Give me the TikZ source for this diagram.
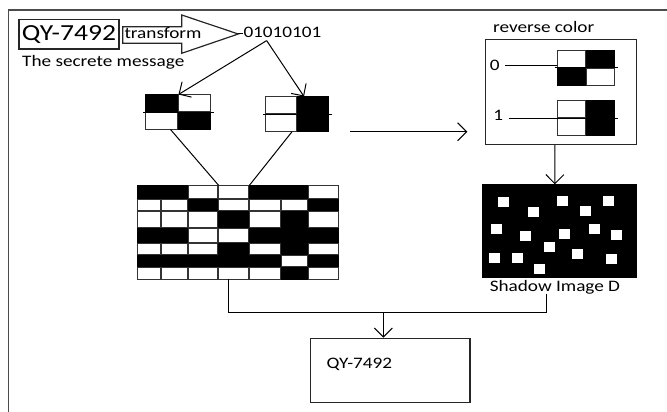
\documentclass[tikz,border=0pt]{standalone}
\usepackage{fontspec}
\setmainfont{Carlito}[FakeStretch=1.2]
\usetikzlibrary{matrix,
	calc,
	positioning,
	arrows.meta}
\tikzstyle{bk}=[draw=black, fill=black, inner sep=0]
\tikzstyle{wt}=[draw=black!80, fill=white, inner sep=0]
\tikzstyle{blkcells}=[ampersand replacement=\&, inner sep=0pt, outer sep=0pt,
		nodes={outer sep=0pt, line width=1pt}]
\tikzstyle{quad}=[blkcells, nodes={minimum width=#1, minimum height=17pt}]
\tikzstyle{gridcells}=[blkcells,
		column 1/.style={nodes={minimum width=23.3pt}},
		column 2/.style={nodes={minimum width=26pt}},
		column 3/.style={nodes={minimum width=29pt}},
		column 4/.style={nodes={minimum width=30pt}},
		column 5/.style={nodes={minimum width=30.7pt}},
		column 6/.style={nodes={minimum width=26.3pt}},
		column 7/.style={nodes={minimum width=30.3pt}},
		row 1/.style={nodes={minimum height=13.7pt}},
		row 2/.style={nodes={minimum height=11pt}},
		row 3/.style={nodes={minimum height=15.7pt}},
		row 4/.style={nodes={minimum height=14pt}},
		row 5/.style={nodes={minimum height=11pt}},
		row 6/.style={nodes={minimum height=10.7pt}},
		row 7/.style={nodes={minimum height=12pt}}]
\tikzstyle{lbl}=[inner sep=0pt, font=\fontsize{16pt}{19pt}\selectfont]
\tikzstyle{box}=[draw=black!85, line width=1.2pt, inner sep=0pt]
\tikzstyle{arr}=[-{Straight Barb[length=9pt, width=18pt]}, line width=1pt]
\tikzstyle{framing}=[draw=black!70, line width=1.5pt]

\begin{document}
\begin{tikzpicture}[x=1pt, y=-1pt, line width=1pt]
	\useasboundingbox (0,0) rectangle (667,412);
	\draw[framing] (8.3,412) -- (8.3,10) -- (667,10);

	\node[box, anchor=north west, minimum width=100pt, minimum height=29.5pt,
		font=\fontsize{23pt}{27pt}\selectfont] (msg) at (18.3,19) {QY-7492};
	\node[lbl, anchor=base west] (msglbl) at (21.7,66.7) {The secrete message};
	\draw[box] (122.7,26.7) -- (181.7,26.7) -- (181.7,15) -- (238.3,34)
		-- (181.7,53.3) -- (181.7,43.3) -- (122.7,43.3) -- cycle;
	\coordinate (tip) at (238.3,34);
	\node[lbl, anchor=base west] (tf) at (124,38.5) {transform};
	\node[lbl, anchor=base west] (bits) at (243,37.5) {01010101};
	\draw (tip) -- (tip -| bits.west);

	\matrix (lb) [quad=32pt, anchor=north west] at (145,94) {
		\node[bk] {}; \& \node[wt] (lbtr) {}; \\
		\node[wt] (lbbl) {}; \& \node[bk] {}; \\
	};
	\matrix (rb) [quad=31pt, anchor=north west] at (265,96) {
		\node[wt] {}; \& \node[bk] (rbtr) {}; \\
		\node[wt] (rbbl) {}; \& \node[bk] {}; \\
	};
	\coordinate (fork) at ($(bits.south west)!0.3!(bits.south east)+(0,2.5)$);
	\draw[arr] (fork) -- (lbtr.north west);
	\draw[arr] (fork) -- ($(rbtr.north west)+(6.5,0)$);

	\matrix (grid) [gridcells, anchor=north west] at (136.7,184.7) {
		\node[bk] {}; \& \node[bk] {}; \& \node[wt] {}; \& \node[wt] (g14) {}; \& \node[bk] (g15) {}; \& \node[bk] {}; \& \node[wt] {}; \\
		\node[wt] {}; \& \node[wt] {}; \& \node[bk] {}; \& \node[wt] {}; \& \node[wt] {}; \& \node[wt] {}; \& \node[bk] {}; \\
		\node[wt] {}; \& \node[wt] {}; \& \node[wt] {}; \& \node[bk] {}; \& \node[wt] {}; \& \node[bk] {}; \& \node[wt] {}; \\
		\node[bk] {}; \& \node[bk] {}; \& \node[wt] {}; \& \node[wt] {}; \& \node[bk] {}; \& \node[bk] {}; \& \node[bk] {}; \\
		\node[wt] {}; \& \node[wt] {}; \& \node[wt] {}; \& \node[bk] {}; \& \node[wt] {}; \& \node[bk] {}; \& \node[wt] {}; \\
		\node[bk] {}; \& \node[bk] {}; \& \node[bk] {}; \& \node[bk] {}; \& \node[bk] {}; \& \node[wt] {}; \& \node[bk] {}; \\
		\node[wt] {}; \& \node[wt] {}; \& \node[wt] {}; \& \node[wt] (g74) {}; \& \node[wt] {}; \& \node[bk] {}; \& \node[wt] {}; \\
	};
	\draw ($(lbbl.south east)+(-7,0)$) -- (g14.north west);
	\draw ($(rbbl.south east)+(-4.3,0)$) -- (g15.north west);

	\coordinate (hs) at (350,131.7);
	\coordinate (he) at (467.3,131.7);
	\draw[arr] (hs) -- (he);

	\node[box, anchor=north west, minimum width=150.7pt, minimum height=105pt] (rev) at (485,39) {};
	\node[lbl, anchor=base west] (revlbl) at (492.7,33) {reverse color};
	\matrix (b0) [quad=28.3pt, anchor=north west] at (556.7,50) {
		\node[wt] {}; \& \node[bk] {}; \\
		\node[bk] {}; \& \node[wt] {}; \\
	};
	\matrix (b1) [quad=28.3pt, anchor=north west] at (556.7,100) {
		\node[wt] {}; \& \node[bk] {}; \\
		\node[wt] {}; \& \node[bk] {}; \\
	};
	\foreach \b in {lb,rb,b0,b1}
		\draw ([xshift=-2pt]\b.west) -- ([xshift=2.5pt]\b.east);
	\node[lbl] (zero) at (494.7,65.5) {0};
	\node[lbl] (one) at (498.3,115.5) {1};
	\draw ($(zero.east)+(5,0)$) -- (zero.east -| b0.west);
	\draw ($(one.east)+(5,2.5)$) -- ($(one.east -| b1.west)+(0,2.5)$);

	\node[fill=black, draw=black, inner sep=0pt, minimum width=154.3pt, minimum height=93pt,
		anchor=north west] (sh) at (481.7,184.3) {};
	\foreach \x/\y in {16/13, 46/23, 75/12, 98/22, 121/12, 9/40, 38/47, 77/45,
			107/40, 129/46, 62/58, 90/65, 7/69, 30/69, 52/80, 124/70}
		\fill[white] ($(sh.north west)+(\x,\y)$) rectangle ++(11.7,9.5);
	\draw[arr] ($(rev.south)+(-6,0)$) -- ($(sh.north)+(-4.5,0)$);
	\node[lbl, anchor=base west] (shl) at (489.3,291) {Shadow Image D};

	\coordinate (join) at (383.3,312.3);
	\draw ($(g74.south)+(-5,0)$) |- (join) -| ($(shl.south)+(-8,0)$);
	\node[box, anchor=north west, minimum width=159.3pt, minimum height=64pt] (out) at (310,337.7) {};
	\node[lbl, anchor=west] (outlbl) at ($(out.north west)+(16,26.3)$) {QY-7492};
	\draw[arr] (join) -- (join |- out.north);
\end{tikzpicture}
\end{document}
